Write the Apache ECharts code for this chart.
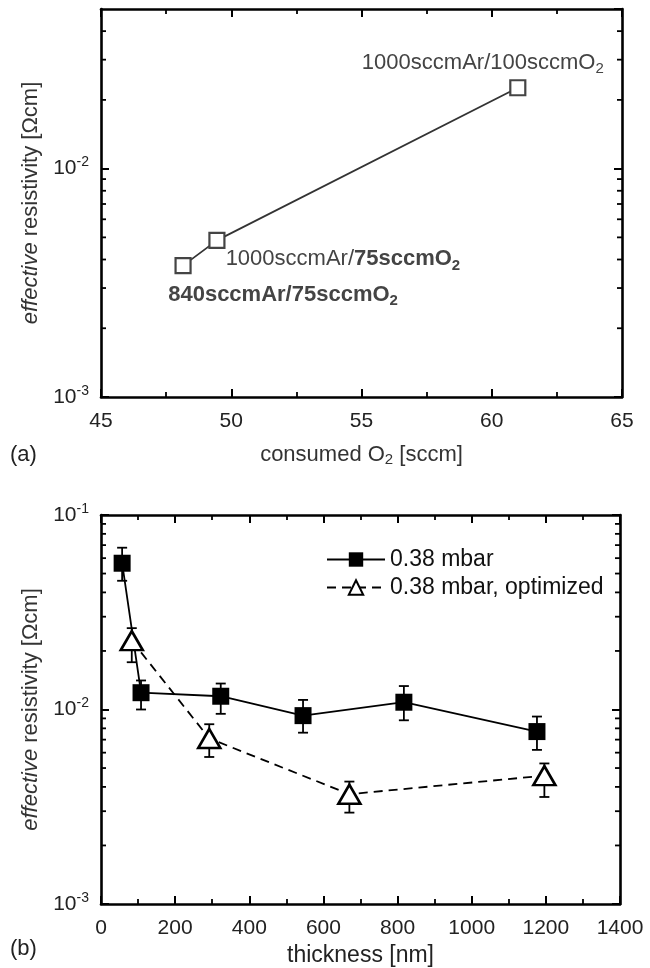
<!DOCTYPE html>
<html><head><meta charset="utf-8">
<script src="https://cdn.jsdelivr.net/npm/echarts@6/dist/echarts.min.js"></script>
<style>html,body{margin:0;padding:0;background:#fff}#c{width:650px;height:968px}</style>
</head><body><div id="c"></div>
<script>
// ---- data (a) ----
const topX = [48.15, 49.45, 61.0];
const topY = [0.00376, 0.00485, 0.0226];
// ---- data (b) ----
const sqX = [57, 108, 323, 545, 817, 1176];
const sqY = [0.0565, 0.0122, 0.0117, 0.0093, 0.0109, 0.0077];
const sqLo = [0.0459, 0.0100, 0.0095, 0.0076, 0.0088, 0.0062];
const sqHi = [0.0679, 0.0141, 0.0136, 0.0112, 0.0132, 0.0092];
const triX = [83, 292, 670, 1196];
const triY = [0.0226, 0.0071, 0.00367, 0.00457];
const triLo = [0.0175, 0.0057, 0.00295, 0.00355];
const triHi = [0.0262, 0.0084, 0.00426, 0.00528];
// minor log ticks
const topMinor = [0.002,0.003,0.004,0.005,0.006,0.007,0.008,0.009,0.02,0.03,0.04];
const botMinor = [0.002,0.003,0.004,0.005,0.006,0.007,0.008,0.009,0.02,0.03,0.04,0.05,0.06,0.07,0.08,0.09];

const FONT = 'Liberation Sans';
const chart = echarts.init(document.getElementById('c'), null, {renderer: 'canvas'});

function supLabel(v) {
  const e = Math.round(Math.log10(v));
  return '10{s|' + e + '}';
}
const yLabelRich = {s: {fontSize: 14, verticalAlign: 'top', padding: [0, 0, 12, 0], fontFamily: FONT, color: '#222'}};

function minorTickSeries(gridIdx, xmin, vals) {
  return {
    type: 'custom', xAxisIndex: gridIdx * 2, yAxisIndex: gridIdx * 2, silent: true, z: 5,
    data: vals.map(v => [xmin, v]),
    renderItem: function (params, api) {
      const cs = params.coordSys;
      const y = api.coord([api.value(0), api.value(1)])[1];
      const st = {stroke: '#000', lineWidth: 1.8};
      return {type: 'group', children: [
        {type: 'line', shape: {x1: cs.x, y1: y, x2: cs.x + 5, y2: y}, style: st},
        {type: 'line', shape: {x1: cs.x + cs.width - 5, y1: y, x2: cs.x + cs.width, y2: y}, style: st}
      ]};
    }
  };
}

function errSeries(xs, lo, hi) {
  return {
    type: 'custom', xAxisIndex: 2, yAxisIndex: 2, silent: true, z: 3,
    data: xs.map((x, i) => [x, lo[i], hi[i]]),
    renderItem: function (params, api) {
      const p1 = api.coord([api.value(0), api.value(1)]);
      const p2 = api.coord([api.value(0), api.value(2)]);
      const w = 5;
      const st = {stroke: '#000', lineWidth: 1.8};
      return {type: 'group', children: [
        {type: 'line', shape: {x1: p1[0], y1: p1[1], x2: p2[0], y2: p2[1]}, style: st},
        {type: 'line', shape: {x1: p1[0] - w, y1: p1[1], x2: p1[0] + w, y2: p1[1]}, style: st},
        {type: 'line', shape: {x1: p2[0] - w, y1: p2[1], x2: p2[0] + w, y2: p2[1]}, style: st}
      ]};
    }
  };
}

const axisLineSt = {show: true, onZero: false, lineStyle: {color: '#000', width: 2.6}};
const tickSt = {show: true, inside: true, length: 8, lineStyle: {color: '#000', width: 2}};
const minorSt = (n) => ({show: true, splitNumber: n, length: 5, lineStyle: {color: '#000', width: 1.8}});
const lblSt = {color: '#222', fontSize: 21, fontFamily: FONT, margin: 14, formatter: (v) => String(v)};

const grids = [
  {left: 101, right: 28, top: 9, height: 388},
  {left: 101, right: 30, top: 515, height: 391}
];

const xAxes = [
  {gridIndex: 0, type: 'value', min: 45, max: 65, interval: 5, position: 'bottom',
   axisLine: axisLineSt, axisTick: tickSt, minorTick: minorSt(2), splitLine: {show: false},
   axisLabel: lblSt,
   name: 'consumed O{sub|2} [sccm]', nameLocation: 'middle', nameGap: 45,
   nameTextStyle: {fontSize: 22, fontFamily: FONT, color: '#333', rich: {sub: {fontSize: 15, verticalAlign: 'bottom', padding: [10, 0, 0, 0], fontFamily: FONT, color: '#333'}}}},
  {gridIndex: 0, type: 'value', min: 45, max: 65, interval: 5, position: 'top',
   axisLine: axisLineSt, axisTick: tickSt, minorTick: minorSt(2), splitLine: {show: false}, axisLabel: {show: false}},
  {gridIndex: 1, type: 'value', min: 0, max: 1400, interval: 200, position: 'bottom',
   axisLine: axisLineSt, axisTick: tickSt, minorTick: minorSt(2), splitLine: {show: false},
   axisLabel: lblSt,
   name: 'thickness [nm]', nameLocation: 'middle', nameGap: 40,
   nameTextStyle: {fontSize: 23, fontFamily: FONT, color: '#222'}},
  {gridIndex: 1, type: 'value', min: 0, max: 1400, interval: 200, position: 'top',
   axisLine: axisLineSt, axisTick: tickSt, minorTick: minorSt(2), splitLine: {show: false}, axisLabel: {show: false}}
];

const yName = '{i|effective} resistivity [Ωcm]';
const yNameSt = {fontSize: 22, fontFamily: FONT, color: '#333', rich: {i: {fontStyle: 'italic', fontSize: 22, fontFamily: FONT, color: '#333'}}};
const yLbl = {color: '#222', fontSize: 21, fontFamily: FONT, margin: 12, formatter: supLabel, rich: yLabelRich};
const yAxes = [
  {gridIndex: 0, type: 'log', logBase: 10, min: 0.001, max: 0.05, position: 'left',
   axisLine: axisLineSt, axisTick: tickSt, splitLine: {show: false},
   axisLabel: Object.assign({showMaxLabel: false}, yLbl),
   name: yName, nameLocation: 'middle', nameGap: 59, nameRotate: 90, nameTextStyle: yNameSt},
  {gridIndex: 0, type: 'log', logBase: 10, min: 0.001, max: 0.05, position: 'right',
   axisLine: axisLineSt, axisTick: tickSt, splitLine: {show: false}, axisLabel: {show: false}},
  {gridIndex: 1, type: 'log', logBase: 10, min: 0.001, max: 0.1, position: 'left',
   axisLine: axisLineSt, axisTick: tickSt, splitLine: {show: false},
   axisLabel: yLbl,
   name: yName, nameLocation: 'middle', nameGap: 59, nameRotate: 90, nameTextStyle: yNameSt},
  {gridIndex: 1, type: 'log', logBase: 10, min: 0.001, max: 0.1, position: 'right',
   axisLine: axisLineSt, axisTick: tickSt, splitLine: {show: false}, axisLabel: {show: false}}
];

const topLabels = [
  {text: '{b|840sccmAr/75sccmO}{bs|2}', offset: [100, 29]},
  {text: '1000sccmAr/{b|75sccmO}{bs|2}', offset: [126, 19]},
  {text: '1000sccmAr/100sccmO{s|2}', offset: [-35, -25]}
];
const annRich = {
  b: {fontWeight: 'bold', fontSize: 22, fontFamily: FONT, color: '#444'},
  bs: {fontWeight: 'bold', fontSize: 15, fontFamily: FONT, color: '#444', verticalAlign: 'bottom', padding: [12, 0, 0, 0]},
  s: {fontSize: 15, fontFamily: FONT, color: '#444', verticalAlign: 'bottom', padding: [12, 0, 0, 0]}
};

const option = {
  animation: false,
  grid: grids,
  xAxis: xAxes,
  yAxis: yAxes,
  legend: {
    show: true, top: 543, left: 321, orient: 'vertical', itemGap: 5, itemWidth: 58, itemHeight: 18, itemStyle: {},
    textStyle: {fontSize: 23, fontFamily: FONT, color: '#111'},
    data: ['0.38 mbar', '0.38 mbar, optimized']
  },
  graphic: [
    {type: 'text', left: 10, top: 444, style: {text: '(a)', fontSize: 22, fontFamily: FONT, fill: '#222'}},
    {type: 'text', left: 10, top: 938, style: {text: '(b)', fontSize: 22, fontFamily: FONT, fill: '#222'}}
  ],
  series: [
    {type: 'line', xAxisIndex: 0, yAxisIndex: 0, data: topX.map((x, i) => [x, topY[i]]),
     symbol: 'rect', symbolSize: 15, itemStyle: {color: '#fff', borderColor: '#444', borderWidth: 2.2},
     lineStyle: {color: '#333', width: 1.8}, z: 4,
     label: {show: true, position: 'inside', fontSize: 22, fontFamily: FONT, color: '#444',
       formatter: (p) => topLabels[p.dataIndex].text, rich: annRich},
     labelLayout: (p) => ({dx: topLabels[p.dataIndex].offset[0], dy: topLabels[p.dataIndex].offset[1]})},
    minorTickSeries(0, 45, topMinor),
    minorTickSeries(1, 0, botMinor),
    errSeries(sqX, sqLo, sqHi),
    errSeries(triX, triLo, triHi),
    {name: '0.38 mbar', type: 'line', xAxisIndex: 2, yAxisIndex: 2, data: sqX.map((x, i) => [x, sqY[i]]),
     symbol: 'rect', symbolSize: 17, itemStyle: {color: '#000', borderColor: '#000', borderWidth: 0},
     lineStyle: {color: '#000', width: 1.8}, z: 4},
    {name: '0.38 mbar, optimized', type: 'line', xAxisIndex: 2, yAxisIndex: 2, data: triX.map((x, i) => [x, triY[i]]),
     symbol: 'triangle', symbolSize: [22, 19], itemStyle: {color: '#fff', borderColor: '#000', borderWidth: 2.6},
     lineStyle: {color: '#000', width: 1.8, type: [9, 6]}, z: 4}
  ]
};
chart.setOption(option);
</script></body></html>
